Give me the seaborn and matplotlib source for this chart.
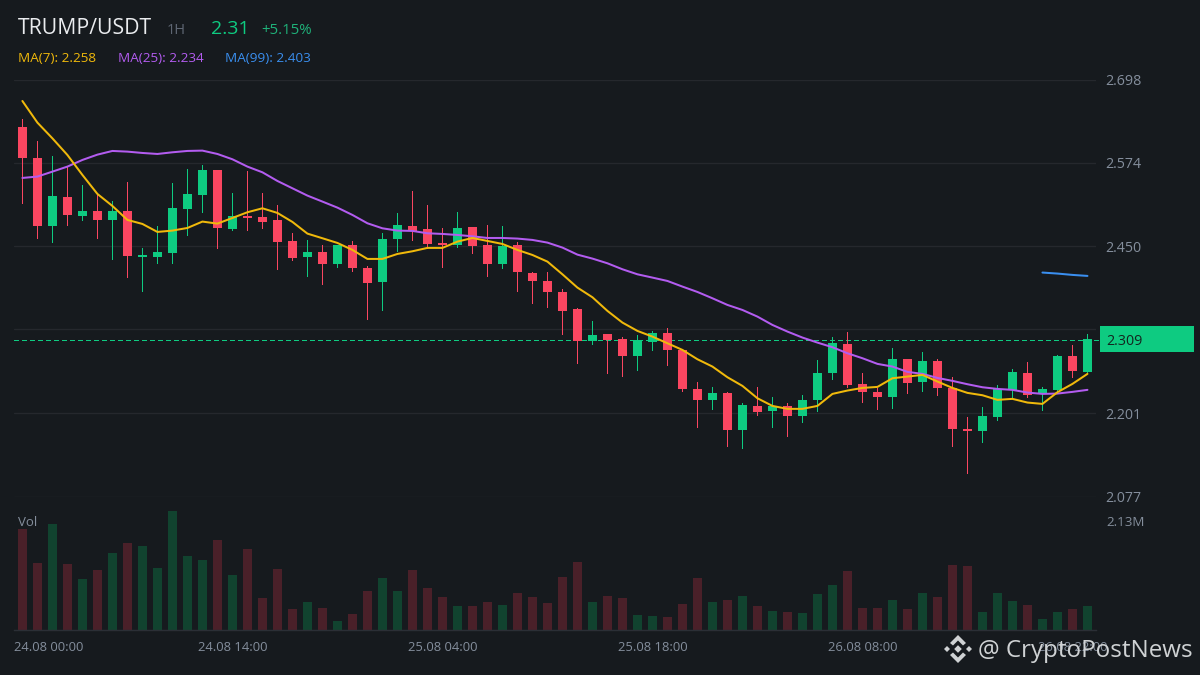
import pandas as pd
import seaborn as sns
import matplotlib.pyplot as plt
from matplotlib.patches import Polygon, Rectangle

# TRUMP/USDT 1H candles
opens = [2.6273, 2.5812, 2.4799, 2.5231, 2.4948, 2.5023, 2.4889, 2.5023, 2.4338, 2.4338, 2.4397, 2.5052,
         2.5261, 2.5633, 2.4755, 2.4948, 2.4933, 2.4889, 2.4576, 2.4338, 2.4412, 2.4233, 2.4516, 2.4174,
         2.3965, 2.4606, 2.4799, 2.4754, 2.4546, 2.4516, 2.4784, 2.4516, 2.4233, 2.4516, 2.4099, 2.3980,
         2.3816, 2.3563, 2.3092, 2.3191, 2.3117, 2.2864, 2.3072, 2.3206, 2.2953, 2.2372, 2.2208, 2.2313,
         2.1762, 2.2119, 2.2045, 2.2119, 2.1970, 2.2209, 2.2611, 2.3042, 2.2447, 2.2328, 2.2253, 2.2819,
         2.2477, 2.2789, 2.2387, 2.1777, 2.1747, 2.1956, 2.2358, 2.2611, 2.2298, 2.2358, 2.2864, 2.2626]
closes = [2.5812, 2.4799, 2.5246, 2.4963, 2.5023, 2.4889, 2.5023, 2.4353, 2.4367, 2.4412, 2.5067, 2.5276,
          2.5633, 2.4769, 2.4948, 2.4918, 2.4859, 2.4561, 2.4323, 2.4412, 2.4233, 2.4516, 2.4174, 2.3951,
          2.4606, 2.4814, 2.4725, 2.4531, 2.4516, 2.4769, 2.4501, 2.4233, 2.4501, 2.4114, 2.3980, 2.3816,
          2.3534, 2.3092, 2.3176, 2.3102, 2.2864, 2.3097, 2.3206, 2.2953, 2.2372, 2.2208, 2.2313, 2.1762,
          2.2134, 2.2030, 2.2119, 2.1970, 2.2209, 2.2611, 2.3057, 2.2432, 2.2328, 2.2253, 2.2819, 2.2462,
          2.2789, 2.2387, 2.1777, 2.1747, 2.1970, 2.2372, 2.2626, 2.2283, 2.2372, 2.2864, 2.2640, 2.3109]
highs = [2.6392, 2.6065, 2.5841, 2.5673, 2.5405, 2.5261, 2.5171, 2.5454, 2.4472, 2.4799, 2.5439, 2.5648,
         2.5707, 2.5633, 2.5291, 2.5618, 2.5291, 2.5112, 2.4695, 2.4591, 2.4516, 2.4516, 2.4576, 2.4204,
         2.4695, 2.4993, 2.5320, 2.5112, 2.4769, 2.5008, 2.4784, 2.4814, 2.4799, 2.4561, 2.4114, 2.4114,
         2.3861, 2.3578, 2.3385, 2.3191, 2.3146, 2.3176, 2.3236, 2.3280, 2.2953, 2.2476, 2.2402, 2.2328,
         2.2164, 2.2402, 2.2253, 2.2164, 2.2283, 2.2804, 2.3147, 2.3221, 2.2611, 2.2387, 2.2983, 2.2819,
         2.2923, 2.2819, 2.2551, 2.1956, 2.2104, 2.2432, 2.2670, 2.2774, 2.2402, 2.2879, 2.3028, 2.3191]
lows = [2.5147, 2.4626, 2.4566, 2.4814, 2.4889, 2.4626, 2.4308, 2.4040, 2.3831, 2.4248, 2.4248, 2.4665,
        2.5008, 2.4472, 2.4740, 2.4740, 2.4769, 2.4159, 2.4293, 2.4055, 2.3936, 2.4189, 2.4129, 2.3415,
        2.3549, 2.4427, 2.4591, 2.4472, 2.4189, 2.4486, 2.4397, 2.4055, 2.4174, 2.3831, 2.3653, 2.3593,
        2.3191, 2.2759, 2.3042, 2.2610, 2.2566, 2.2655, 2.2953, 2.2730, 2.2342, 2.1806, 2.2074, 2.1524,
        2.1494, 2.1985, 2.1807, 2.1673, 2.1881, 2.2045, 2.2521, 2.2402, 2.2179, 2.2075, 2.2090, 2.2313,
        2.2343, 2.2283, 2.1524, 2.1122, 2.1583, 2.1911, 2.2253, 2.2253, 2.2060, 2.2343, 2.2551, 2.2626]
volumes = [1.97, 1.32, 2.07, 1.30, 0.99, 1.17, 1.50, 1.70, 1.64, 1.21, 2.33, 1.44,
           1.36, 1.76, 1.07, 1.58, 0.62, 1.19, 0.42, 0.54, 0.44, 0.18, 0.32, 0.77,
           1.01, 0.77, 1.17, 0.83, 0.64, 0.46, 0.46, 0.54, 0.48, 0.73, 0.64, 0.52,
           1.03, 1.34, 0.54, 0.67, 0.62, 0.30, 0.28, 0.26, 0.50, 1.01, 0.54, 0.58,
           0.66, 0.46, 0.38, 0.36, 0.34, 0.71, 0.89, 1.15, 0.44, 0.44, 0.58, 0.42,
           0.73, 0.64, 1.28, 1.26, 0.36, 0.73, 0.56, 0.48, 0.22, 0.36, 0.42, 0.46]
ma7 = [2.6660, 2.6338, 2.6104, 2.5856, 2.5559, 2.5276, 2.5097, 2.4889, 2.4829, 2.4710, 2.4730, 2.4769,
       2.4864, 2.4834, 2.4918, 2.5003, 2.5062, 2.4993, 2.4859, 2.4685, 2.4616, 2.4546, 2.4442, 2.4308,
       2.4308, 2.4382, 2.4422, 2.4472, 2.4472, 2.4566, 2.4620, 2.4576, 2.4531, 2.4442, 2.4367, 2.4268,
       2.4079, 2.3881, 2.3737, 2.3534, 2.3360, 2.3236, 2.3151, 2.3052, 2.2953, 2.2814, 2.2705, 2.2546,
       2.2417, 2.2233, 2.2119, 2.2075, 2.2075, 2.2119, 2.2298, 2.2348, 2.2387, 2.2402, 2.2531, 2.2556,
       2.2581, 2.2482, 2.2387, 2.2313, 2.2278, 2.2209, 2.2224, 2.2169, 2.2149, 2.2323, 2.2447, 2.2596]
ma25 = [2.5514, 2.5534, 2.5608, 2.5683, 2.5782, 2.5861, 2.5916, 2.5906, 2.5886, 2.5871, 2.5896, 2.5916,
        2.5921, 2.5871, 2.5792, 2.5683, 2.5598, 2.5469, 2.5360, 2.5251, 2.5162, 2.5072, 2.4963, 2.4839,
        2.4764, 2.4730, 2.4725, 2.4690, 2.4680, 2.4665, 2.4645, 2.4620, 2.4620, 2.4611, 2.4591, 2.4551,
        2.4477, 2.4372, 2.4313, 2.4243, 2.4154, 2.4079, 2.4030, 2.3980, 2.3896, 2.3816, 2.3722, 2.3623,
        2.3548, 2.3449, 2.3325, 2.3226, 2.3137, 2.3062, 2.2993, 2.2903, 2.2829, 2.2745, 2.2705, 2.2626,
        2.2596, 2.2536, 2.2492, 2.2442, 2.2397, 2.2372, 2.2358, 2.2318, 2.2298, 2.2303, 2.2328, 2.2358]
ma99 = [2.4105, 2.4090, 2.4070, 2.4055]
ma99_bars = [68, 69, 70, 71]

price_ticks = [2.077, 2.201, 2.326, 2.450, 2.574, 2.698]
time_ticks = [14, 28, 42, 56, 70]
time_labels = ["24.08 14:00", "25.08 04:00", "25.08 18:00", "26.08 08:00", "26.08 22:00"]
last_price = 2.3097

BG = "#161a1e"
GRID = "#25282d"
GREEN = "#0ecb81"
RED = "#fa4661"
GRAY = "#848e9c"
MARK = "#cfd2d4"
W, H = 1200, 675


def fig_rect(left, top, right, bottom):
    return [left / W, 1 - bottom / H, (right - left) / W, (bottom - top) / H]


sns.set_theme(style="dark", rc={"figure.facecolor": BG, "axes.facecolor": BG})
plt.rcParams["font.family"] = ["Open Sans", "DejaVu Sans"]

df = pd.DataFrame({"bar": range(len(opens)), "open": opens, "close": closes, "high": highs, "low": lows,
                   "vol": volumes, "ma7": ma7, "ma25": ma25})
df["side"] = ["up" if c >= o else "down" for o, c in zip(df["open"], df["close"])]
df["color"] = df["side"].map({"up": GREEN, "down": RED})

fig = plt.figure(figsize=(12, 6.75), dpi=100)
ax = fig.add_axes(fig_rect(14, 79.5, 1096, 496.5))
ax_vol = fig.add_axes(fig_rect(14, 505, 1096, 630))

# candles
ax.vlines(df["bar"], df["low"], df["high"], colors=df["color"], linewidth=0.72, antialiased=False, zorder=2)
ax.bar(df["bar"], (df["close"] - df["open"]).abs(), bottom=df[["open", "close"]].min(axis=1),
       width=0.6, color=df["color"], linewidth=0, zorder=3)

# moving averages
sns.lineplot(data=df, x="bar", y="ma7", color="#f0b90b", linewidth=1.45, estimator=None, ax=ax, zorder=5)
sns.lineplot(data=df, x="bar", y="ma25", color="#b35cf0", linewidth=1.45, estimator=None, ax=ax, zorder=4)
sns.lineplot(x=ma99_bars, y=ma99, color="#3a8ff0", linewidth=1.45, estimator=None, ax=ax, zorder=4)

ax.axhline(last_price, xmax=1.004, color=GREEN, linewidth=0.72, dashes=(5, 3), antialiased=False,
           zorder=1, clip_on=False)

ax.set_xlim(-0.56, 71.57)
ax.set_ylim(2.077, 2.698)
ax.set_yticks(price_ticks)
ax.set_yticklabels(["2.077", "2.201", "", "2.450", "2.574", "2.698"])
ax.yaxis.tick_right()
ax.tick_params(axis="y", length=0, pad=7, labelsize=10.3, labelcolor=GRAY)
ax.set_xticks([])
ax.set_xlabel("")
ax.set_ylabel("")
ax.grid(axis="y", color=GRID, linewidth=1)
sns.despine(ax=ax, left=True, right=True, top=True, bottom=True)

# volume panel
sns.barplot(data=df, x="bar", y="vol", hue="side", palette={"up": "#11432f", "down": "#4a2029"},
            native_scale=True, dodge=False, width=0.6, saturation=1, linewidth=0, legend=False, ax=ax_vol)
ax_vol.set_xlim(-0.56, 71.57)
ax_vol.set_ylim(0, 2.446)
ax_vol.set_xticks(time_ticks)
ax_vol.set_xticklabels(time_labels)
ax_vol.tick_params(axis="x", length=0, pad=8.2, labelsize=9.4, labelcolor=GRAY)
ax_vol.set_yticks([])
ax_vol.set_xlabel("")
ax_vol.set_ylabel("")
ax_vol.grid(False)
sns.despine(ax=ax_vol, left=True, right=True, top=True)
ax_vol.spines["bottom"].set_color("#2b2f36")
ax_vol.spines["bottom"].set_linewidth(1)


def px_text(x, y, s, **kw):
    fig.text(x / W, 1 - y / H, s, va="center", **kw)


px_text(14, 647.5, "24.08 00:00", color=GRAY, fontsize=9.4)
px_text(18, 523, "Vol", color=GRAY, fontsize=9.5)
px_text(1106, 522, "2.13M", color=GRAY, fontsize=9.6)

# header
px_text(18, 29, "TRUMP/USDT", color="#eaecef", fontsize=15.3)
px_text(167, 31, "1H", color="#5e6673", fontsize=10.5)
px_text(211, 29, "2.31", color=GREEN, fontsize=14)
px_text(261, 31, "+5.15%", color="#1fb27a", fontsize=10.8)
px_text(18, 59, "MA(7): 2.258", color="#f0b90b", fontsize=9.7)
px_text(118, 59, "MA(25): 2.234", color="#b35cf0", fontsize=9.7)
px_text(225, 59, "MA(99): 2.403", color="#3a8ff0", fontsize=9.7)

# last price tag
fig.add_artist(Rectangle((1100 / W, 1 - 352 / H), 94 / W, 26 / H, transform=fig.transFigure, color=GREEN, linewidth=0))
px_text(1106, 341.5, "2.309", color="#13261f", fontsize=10.3)

# watermark
px_text(978, 651, "@ CryptoPostNews", color=MARK, fontsize=17.4)


def logo_part(cx, cy, offsets):
    pts = [((cx + dx) / W, 1 - (cy + dy) / H) for dx, dy in offsets]
    fig.add_artist(Polygon(pts, closed=True, transform=fig.transFigure, color=MARK, linewidth=0))


def diamond(cx, cy, r):
    logo_part(cx, cy, [(0, -r), (r, 0), (0, r), (-r, 0)])


diamond(958, 649, 3.8)
diamond(947, 649, 3)
diamond(969, 649, 3)
logo_part(958, 649, [(0, -14), (8, -6), (5, -3.5), (0, -8.5), (-5, -3.5), (-8, -6)])
logo_part(958, 649, [(0, 14), (8, 6), (5, 3.5), (0, 8.5), (-5, 3.5), (-8, 6)])

fig.savefig("out.png", dpi=100, facecolor=BG)
